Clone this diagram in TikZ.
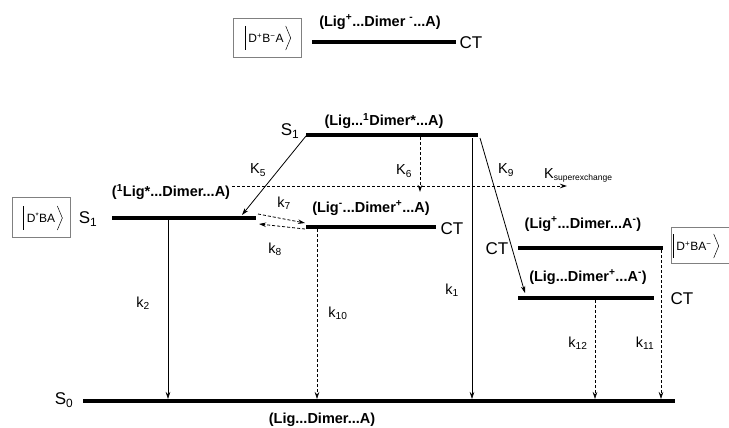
\documentclass[tikz,border=0pt]{standalone}
\usepackage{fontspec}
\setmainfont{Liberation Sans}
\usetikzlibrary{arrows.meta}
\newcommand{\fsz}[1]{\fontsize{#1}{#1}\selectfont}
\newcommand{\Sp}[1]{\textsuperscript{#1}}
\newcommand{\Sb}[1]{\textsubscript{#1}}
\tikzset{
  level/.style={line width=3.8pt},
  lbl/.style={font=\bfseries\fsz{14.5}, inner sep=0pt},
  st/.style={font=\fsz{17}, inner sep=0pt},
  rate/.style={font=\fsz{14.5}, inner sep=0pt},
  ketbox/.style={draw=gray, line width=0.7pt, inner sep=0pt},
  kettext/.style={font=\fsz{12}, inner sep=0pt},
  ketline/.style={line width=0.5pt},
  arr/.style={-{Stealth[length=7pt,width=4.5pt]}, line width=0.8pt},
  darr/.style={arr, dash pattern=on 3pt off 2pt}
}
\newcommand{\ketdeco}[1]{%
  \draw[ketline] ([xshift=-3pt,yshift=12pt]#1.west) -- ([xshift=-3pt,yshift=-12pt]#1.west);
  \draw[ketline] ([xshift=2pt,yshift=12pt]#1.east) -- ([xshift=7pt]#1.east) -- ([xshift=2pt,yshift=-12pt]#1.east);}
\begin{document}
\begin{tikzpicture}[x=1pt,y=-1pt]
\useasboundingbox (0,0) rectangle (729,428);
% ket boxes
\node[ketbox, minimum width=68pt, minimum height=39pt] (ketT) at (267,37.5) {};
\node[kettext] (ketTt) at (266,38) {D\Sp{+}B\Sp{−}A};
\ketdeco{ketTt}
\node[ketbox, minimum width=58pt, minimum height=40pt] (ketL) at (41,217) {};
\node[kettext] (ketLt) at (41,218) {D\Sp{*}BA};
\ketdeco{ketLt}
\node[ketbox, minimum width=60pt, minimum height=36pt] (ketR) at (701,245) {};
\node[kettext] (ketRt) at (694,246) {D\Sp{+}BA\Sp{−}};
\ketdeco{ketRt}
% levels
\coordinate (T1) at (312,42); \coordinate (T2) at (456,42);
\coordinate (U1) at (306,135); \coordinate (U2) at (478,135);
\coordinate (L1) at (112,218); \coordinate (L2) at (256,218);
\coordinate (M1) at (306,227); \coordinate (M2) at (436,227);
\coordinate (R1) at (518,248); \coordinate (R2) at (663,248);
\coordinate (Q1) at (518,298); \coordinate (Q2) at (654,298);
\coordinate (G1) at (83,401); \coordinate (G2) at (675,401);
\draw[level] (T1) -- (T2);
\draw[level] (U1) -- (U2);
\draw[level] (L1) -- (L2);
\draw[level] (M1) -- (M2);
\draw[level] (R1) -- (R2);
\draw[level] (Q1) -- (Q2);
\draw[level, line width=4.5pt] (G1) -- (G2);
% level labels
\node[lbl] (lT) at (380,22) {(Lig\Sp{+}...Dimer \Sp{-}...A)};
\node[lbl] (lU) at (384,121) {(Lig...\Sp{1}Dimer*...A)};
\node[lbl] (lL) at (171,192) {(\Sp{1}Lig*...Dimer...A)};
\node[lbl] (lM) at (371,208) {(Lig\Sp{-}...Dimer\Sp{+}...A)};
\node[lbl] (lR) at (583,224) {(Lig\Sp{+}...Dimer...A\Sp{-})};
\node[lbl] (lQ) at (588,277) {(Lig...Dimer\Sp{+}...A\Sp{-})};
\node[lbl] (lG) at (322,420) {(Lig...Dimer...A)};
% state labels
\node[st] (sT) at (471,43) {CT};
\node[st] (sU) at (290,131) {S\Sb{1}};
\node[st] (sL) at (88,219) {S\Sb{1}};
\node[st] (sM) at (452,229) {CT};
\node[st] (sR) at (497,249) {CT};
\node[st] (sQ) at (682,299) {CT};
\node[st] (sG) at (64,400) {S\Sb{0}};
% transfer arrows
\coordinate (k5a) at (306,136); \coordinate (k5b) at (242,215);
\draw[arr] (k5a) -- (k5b);
\coordinate (k6a) at (420,137); \coordinate (k6b) at (420,192);
\draw[darr] (k6a) -- (k6b);
\coordinate (k9a) at (480,138); \coordinate (k9b) at (525,293);
\draw[arr] (k9a) -- (k9b);
\coordinate (kxa) at (232,186); \coordinate (kxb) at (567,186);
\draw[darr] (kxa) -- (kxb);
\coordinate (k7a) at (258,214); \coordinate (k7b) at (305,223);
\draw[darr] (k7a) -- (k7b);
\coordinate (k8a) at (305,229); \coordinate (k8b) at (259,224);
\draw[darr] (k8a) -- (k8b);
% decay arrows
\coordinate (k2a) at (168,220); \coordinate (k2b) at (168,399);
\draw[arr, line width=0.6pt] (k2a) -- (k2b);
\coordinate (k10a) at (317,229); \coordinate (k10b) at (317,399);
\draw[darr, line width=0.6pt] (k10a) -- (k10b);
\coordinate (k1a) at (472,138); \coordinate (k1b) at (472,399);
\draw[arr, line width=0.6pt] (k1a) -- (k1b);
\coordinate (k12a) at (595,300); \coordinate (k12b) at (595,399);
\draw[darr, line width=0.6pt] (k12a) -- (k12b);
\coordinate (k11a) at (661,250); \coordinate (k11b) at (661,399);
\draw[darr, line width=0.6pt] (k11a) -- (k11b);
% rate labels
\node[rate] (rK5) at (258,170) {K\Sb{5}};
\node[rate] (rK6) at (404,171) {K\Sb{6}};
\node[rate] (rK9) at (506,170) {K\Sb{9}};
\node[rate, anchor=west] (rKx) at (544,175) {K\textsubscript{\fsz{8.5}superexchange}};
\node[rate] (rk7) at (284,203) {k\Sb{7}};
\node[rate] (rk8) at (275,249) {k\Sb{8}};
\node[rate] (rk2) at (143,303) {k\Sb{2}};
\node[rate] (rk10) at (338,313) {k\Sb{10}};
\node[rate] (rk1) at (452,290) {k\Sb{1}};
\node[rate] (rk12) at (578,343) {k\Sb{12}};
\node[rate] (rk11) at (645,343) {k\Sb{11}};
\end{tikzpicture}
\end{document}
